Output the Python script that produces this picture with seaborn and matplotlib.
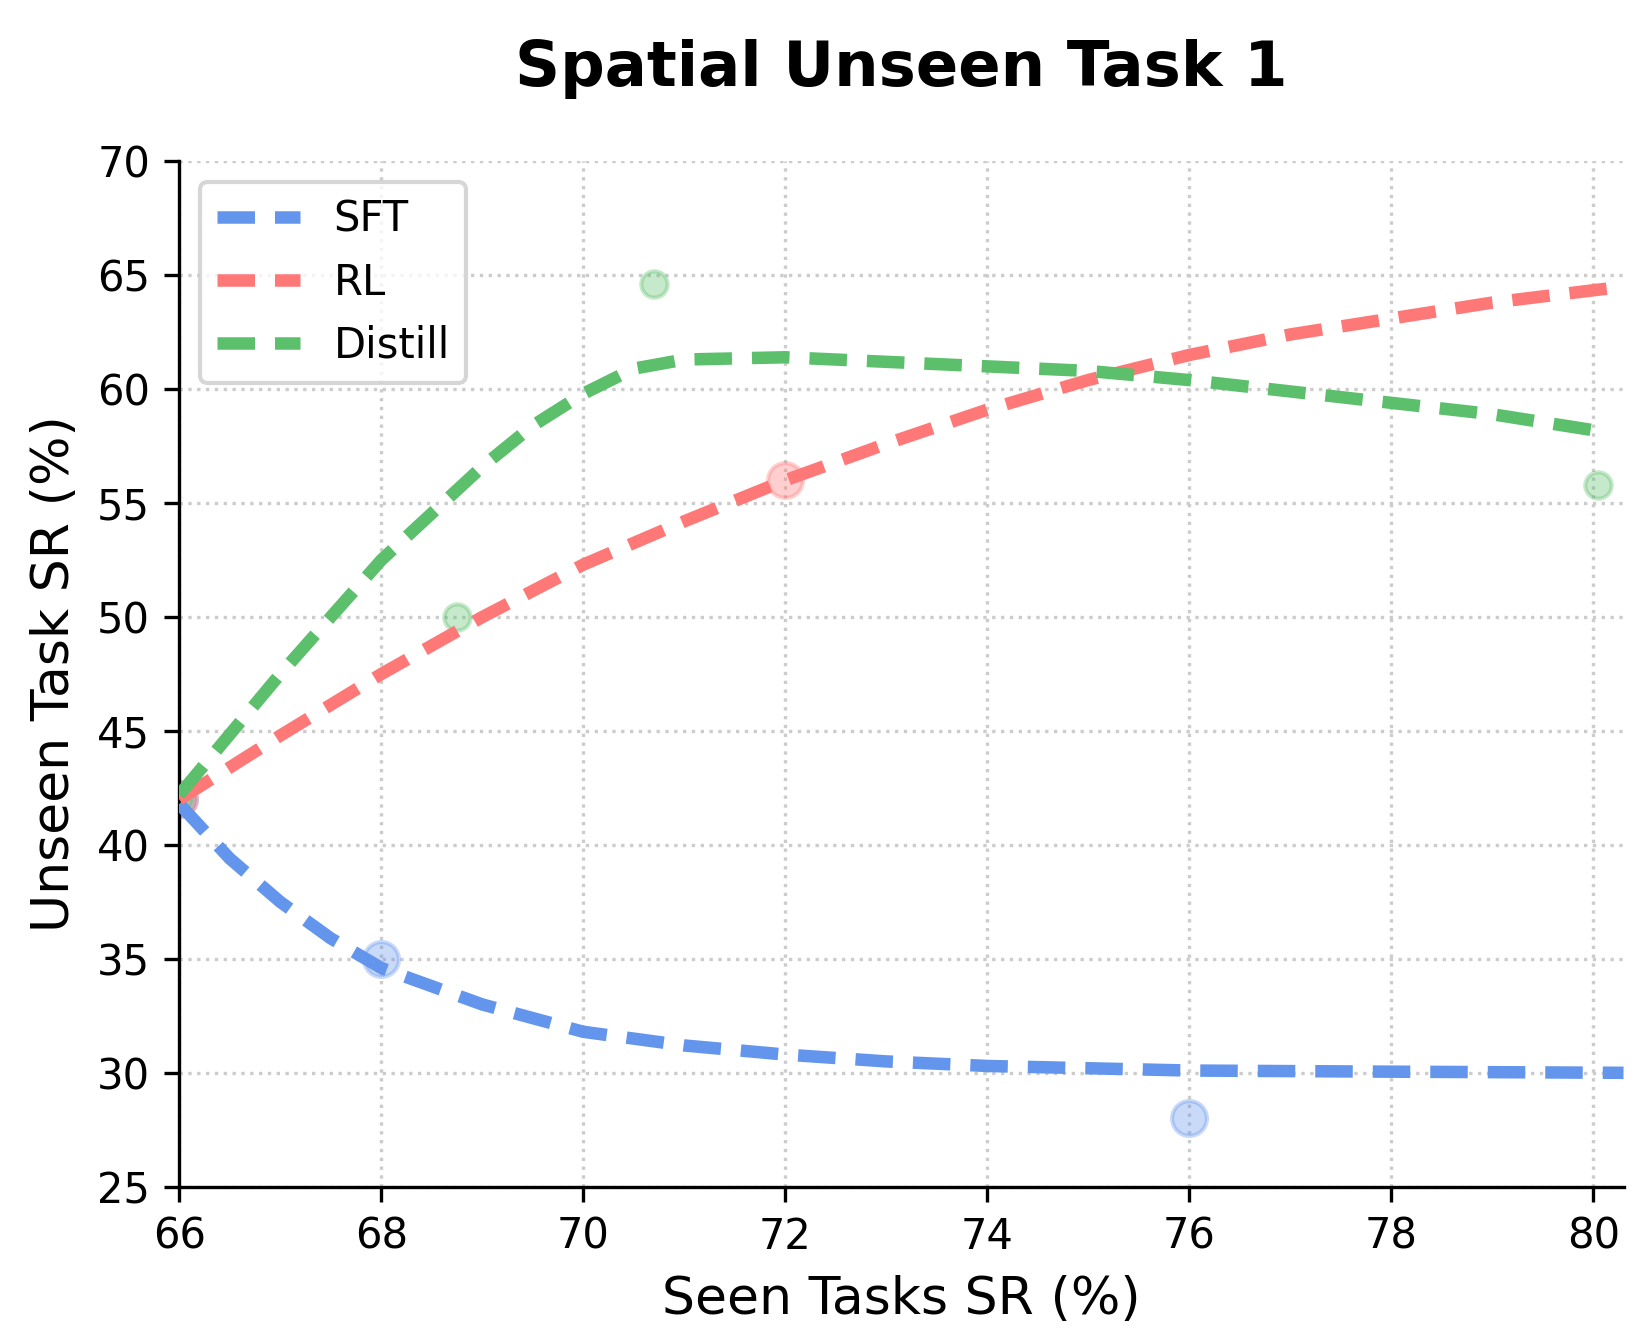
import matplotlib
matplotlib.use("Agg")
import matplotlib.pyplot as plt
import seaborn as sns

sns.set_style("ticks", {"text.color": "black", "axes.labelcolor": "black",
                        "xtick.color": "black", "ytick.color": "black",
                        "axes.edgecolor": "black"})
plt.rcParams['font.family'] = ['DejaVu Sans']

# observed points
sft_x = [66, 68, 76]; sft_y = [42, 35, 28]
rl_x = [66, 72]; rl_y = [42, 56]
dis_x = [66, 68.75, 70.7, 80.05]; dis_y = [42, 50, 64.6, 55.8]

# fitted curves
sft_cx = [66, 66.5, 67, 67.5, 68, 69, 70, 71, 72, 73, 74, 75, 76, 78, 80.3]
sft_cy = [41.8, 39.4, 37.5, 35.9, 34.6, 33.0, 31.8, 31.2, 30.8, 30.5, 30.3, 30.2, 30.1, 30.05, 30.0]
rl_cx = [66, 67, 68, 69, 70, 71, 72, 73, 74, 75, 76, 77, 78, 79, 80.3]
rl_cy = [42, 44.8, 47.5, 50, 52.3, 54.2, 56, 57.6, 59.1, 60.4, 61.5, 62.4, 63.1, 63.8, 64.5]
dis_cx = [66, 67, 68, 69, 69.5, 70, 70.5, 71, 72, 73, 74, 75, 76, 77, 78, 79, 80]
dis_cy = [42.2, 47.5, 52.5, 56.6, 58.4, 59.8, 60.9, 61.3, 61.4, 61.2, 61.0, 60.8, 60.4, 59.9, 59.4, 58.9, 58.2]

colors = {"SFT": "#6495ED", "RL": "#FF7878", "Distill": "#5CBF6B"}

fig, ax = plt.subplots(figsize=(5.483, 4.48), dpi=300)
for name, px, py, cx, cy, s in [("SFT", sft_x, sft_y, sft_cx, sft_cy, 70),
                                ("RL", rl_x, rl_y, rl_cx, rl_cy, 70),
                                ("Distill", dis_x, dis_y, dis_cx, dis_cy, 40)]:
    sns.scatterplot(x=px, y=py, ax=ax, color=colors[name], alpha=0.35, s=s,
                    edgecolor=colors[name], linewidth=1, zorder=2)
    sns.lineplot(x=cx, y=cy, ax=ax, color=colors[name], lw=3, ls=(0, (3, 1.6)),
                 label=name, sort=False, zorder=3)

ax.set_xlim(66, 80.3)
ax.set_ylim(25, 70)
ax.set_xticks(range(66, 81, 2))
ax.set_yticks(range(25, 71, 5))
ax.grid(True, ls=":", color="#cccccc", lw=0.8)
sns.despine(ax=ax)
ax.tick_params(labelsize=10)
ax.set_xlabel("Seen Tasks SR (%)", fontsize=12.5)
ax.set_ylabel("Unseen Task SR (%)", fontsize=12.5)
ax.set_title("Spatial Unseen Task 1", fontsize=15, fontweight="bold", pad=18)
ax.legend(loc="upper left", fontsize=10, handlelength=2)
fig.subplots_adjust(left=0.109, right=0.987, top=0.88, bottom=0.117)
fig.savefig("out.png", dpi=300)
